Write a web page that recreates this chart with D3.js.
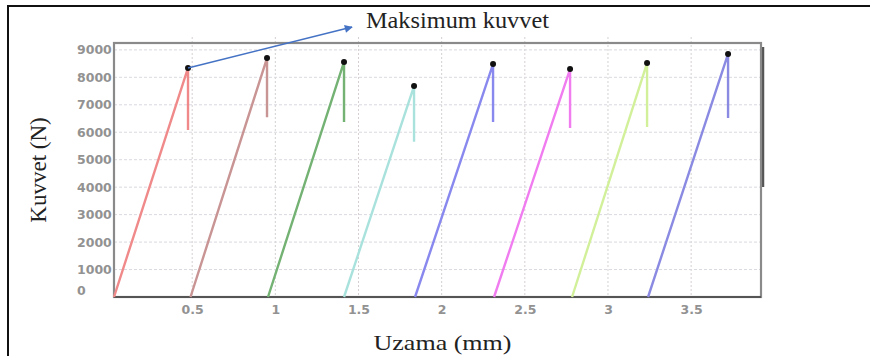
<!DOCTYPE html>
<html>
<head>
<meta charset="utf-8">
<script src="https://cdn.jsdelivr.net/npm/d3@7"></script>
<style>
  body { margin: 0; background: #fff; }
  svg { display: block; }
</style>
</head>
<body>
<div class="chart"></div>
<script>
// tensile tests: start elongation, peak (elongation, force), force after the drop
const specimens = ["1", "2", "3", "4", "5", "6", "7", "8"];
const startX = [0.03, 0.49, 0.956, 1.413, 1.84, 2.315, 2.784, 3.241];
const peakX = [0.475, 0.95, 1.413, 1.834, 2.309, 2.772, 3.235, 3.722];
const peakY = [8340, 8700, 8560, 7680, 8485, 8300, 8520, 8850];
const dropY = [6080, 6550, 6370, 5650, 6370, 6150, 6190, 6520];
const colours = ["#f08a8a", "#c99494", "#74b274", "#a9e2dd", "#8888ee", "#f07cf0", "#d2f09a", "#8a8ae2"];

const xTicks = [0.5, 1, 1.5, 2, 2.5, 3, 3.5];
const yTicks = [0, 1000, 2000, 3000, 4000, 5000, 6000, 7000, 8000, 9000];

const xTitle = "Uzama (mm)";
const yTitle = "Kuvvet (N)";
const note = "Maksimum kuvvet";
const noteTip = { x: 1.461, y: 9830 };
const noteText = { x: 1.545, y: 9800 };

const width = 870;
const height = 356;
const plot = { left: 114, right: 761, top: 43, bottom: 297 };

const svg = d3
  .select(".chart")
  .append("svg")
  .attr("width", width)
  .attr("height", height);

// outer frame
svg
  .append("rect")
  .attr("x", 8)
  .attr("y", 6)
  .attr("width", width + 10)
  .attr("height", height + 10)
  .attr("fill", "none")
  .attr("stroke", "#111")
  .attr("stroke-width", 2);

const xScale = d3.scaleLinear().domain([0.03, 3.92]).range([plot.left, plot.right]);
const yScale = d3.scaleLinear().domain([0, 9250]).range([plot.bottom, plot.top]);

// gridlines
svg
  .append("g")
  .selectAll("line")
  .data(xTicks)
  .join("line")
  .attr("x1", (d) => xScale(d))
  .attr("x2", (d) => xScale(d))
  .attr("y1", plot.top - 6)
  .attr("y2", plot.bottom)
  .attr("stroke", "#d6d0d0")
  .attr("stroke-dasharray", "2,2");

svg
  .append("g")
  .selectAll("line")
  .data(yTicks.filter((d) => d > 0))
  .join("line")
  .attr("x1", plot.left)
  .attr("x2", plot.right)
  .attr("y1", (d) => yScale(d))
  .attr("y2", (d) => yScale(d))
  .attr("stroke", "#d9d9e0")
  .attr("stroke-dasharray", "3,2");

// plot frame with a little shadow on the right
svg
  .append("line")
  .attr("x1", plot.right + 2)
  .attr("x2", plot.right + 2)
  .attr("y1", plot.top + 4)
  .attr("y2", plot.bottom - 110)
  .attr("stroke", "#555")
  .attr("stroke-width", 2.5);

svg
  .append("rect")
  .attr("x", plot.left)
  .attr("y", plot.top)
  .attr("width", plot.right - plot.left)
  .attr("height", plot.bottom - plot.top)
  .attr("fill", "none")
  .attr("stroke", "#8a8a8a")
  .attr("stroke-width", 2.2);

svg
  .append("line")
  .attr("x1", plot.left)
  .attr("x2", plot.right)
  .attr("y1", plot.bottom)
  .attr("y2", plot.bottom)
  .attr("stroke", "#555")
  .attr("stroke-width", 2);

// axes (labels only)
const xAxis = svg
  .append("g")
  .attr("transform", `translate(0, ${plot.bottom})`)
  .call(d3.axisBottom(xScale).tickValues(xTicks).tickSize(0).tickPadding(8).tickFormat(d3.format("")));

const yAxis = svg
  .append("g")
  .attr("transform", `translate(${plot.left}, 0)`)
  .call(d3.axisLeft(yScale).tickValues(yTicks).tickSize(0).tickPadding(6).tickFormat(d3.format("d")));

svg.selectAll(".domain").remove();
svg
  .selectAll(".tick text")
  .attr("fill", "#808080")
  .attr("font-family", "DejaVu Sans")
  .attr("font-size", "12.5px")
  .attr("font-weight", "bold")
  .attr("opacity", 0.85);

yAxis.selectAll(".tick text").attr("text-anchor", "start").attr("x", -37);
yAxis
  .selectAll(".tick")
  .filter((d) => d === 0)
  .select("text")
  .attr("dy", "-0.2em");

// specimen curves: linear rise to the peak then a vertical drop
const line = d3
  .line()
  .x((d) => xScale(d[0]))
  .y((d) => yScale(d[1]));

const curves = specimens.map((s, i) => [
  [startX[i], 0],
  [peakX[i], peakY[i]],
  [peakX[i], dropY[i]],
]);

svg
  .append("g")
  .selectAll("path")
  .data(curves)
  .join("path")
  .attr("d", line)
  .attr("fill", "none")
  .attr("stroke", (_d, i) => colours[i])
  .attr("stroke-width", 2.4)
  .attr("stroke-linejoin", "miter");

svg
  .append("g")
  .selectAll("circle")
  .data(specimens)
  .join("circle")
  .attr("cx", (_d, i) => xScale(peakX[i]))
  .attr("cy", (_d, i) => yScale(peakY[i]))
  .attr("r", 3)
  .attr("fill", "#111");

// annotation arrow from the first peak
svg
  .append("defs")
  .append("marker")
  .attr("id", "head")
  .attr("viewBox", "0 0 10 10")
  .attr("refX", 9)
  .attr("refY", 5)
  .attr("markerWidth", 10)
  .attr("markerHeight", 8)
  .attr("markerUnits", "userSpaceOnUse")
  .attr("orient", "auto")
  .append("path")
  .attr("d", "M0,0L10,5L0,10Z")
  .attr("fill", "#4472c4");

svg
  .append("line")
  .attr("x1", xScale(peakX[0]))
  .attr("y1", yScale(peakY[0]))
  .attr("x2", xScale(noteTip.x))
  .attr("y2", yScale(noteTip.y))
  .attr("stroke", "#4472c4")
  .attr("stroke-width", 1.6)
  .attr("marker-end", "url(#head)");

svg
  .append("text")
  .attr("x", xScale(noteText.x))
  .attr("y", yScale(noteText.y))
  .attr("font-family", "Liberation Serif")
  .attr("font-size", "23px")
  .attr("fill", "#222")
  .attr("textLength", 183)
  .attr("lengthAdjust", "spacingAndGlyphs")
  .text(note);

// axis titles
svg
  .append("text")
  .attr("x", (plot.left + plot.right) / 2 + 5)
  .attr("y", 350)
  .attr("text-anchor", "middle")
  .attr("font-family", "Liberation Serif")
  .attr("font-size", "22px")
  .attr("fill", "#222")
  .attr("textLength", 138)
  .attr("lengthAdjust", "spacingAndGlyphs")
  .text(xTitle);

svg
  .append("text")
  .attr("transform", `translate(46, ${(plot.top + plot.bottom) / 2}) rotate(-90)`)
  .attr("text-anchor", "middle")
  .attr("font-family", "Liberation Serif")
  .attr("font-size", "23px")
  .attr("fill", "#222")
  .text(yTitle);
</script>
</body>
</html>
